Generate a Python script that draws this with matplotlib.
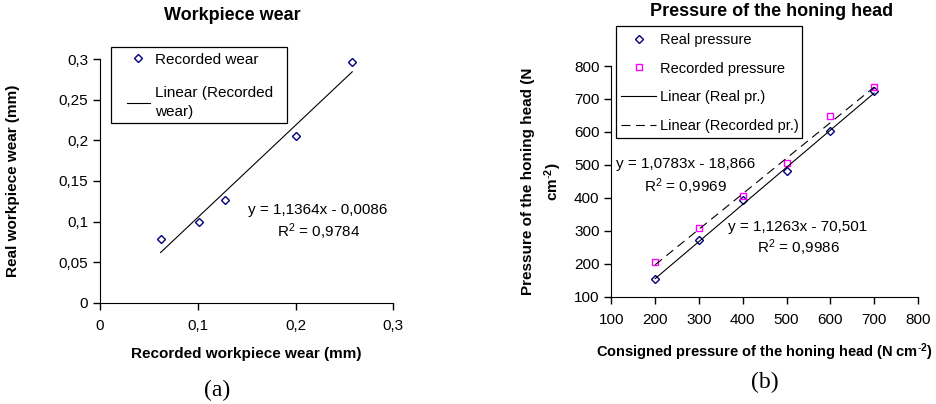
import numpy as np
import matplotlib
matplotlib.use("Agg")
import matplotlib.pyplot as plt
from matplotlib.patches import Rectangle
from matplotlib.ticker import FuncFormatter

plt.rcParams["font.family"] = ["Liberation Sans", "DejaVu Sans"]
plt.rcParams["mathtext.fontset"] = "custom"
plt.rcParams["mathtext.rm"] = "Liberation Sans"
plt.rcParams["mathtext.it"] = "Liberation Sans:italic"
plt.rcParams["mathtext.bf"] = "Liberation Sans:bold"

# (a) workpiece wear
recorded_wear = [0.062, 0.101, 0.128, 0.200, 0.258]
real_wear = [0.078, 0.100, 0.127, 0.206, 0.297]
wear_slope, wear_icpt = 1.1364, -0.0086
wear_eq = "y = 1,1364x - 0,0086"
wear_r2 = "R$^2$ = 0,9784"

# (b) pressure of the honing head
consigned = [200, 300, 400, 500, 600, 700]
real_pressure = [153, 273, 393, 482, 604, 725]
recorded_pressure = [205, 308, 406, 507, 648, 737]
real_slope, real_icpt = 1.1263, -70.501
rec_slope, rec_icpt = 1.0783, -18.866
real_eq = "y = 1,1263x - 70,501"
real_r2 = "R$^2$ = 0,9986"
rec_eq = "y = 1,0783x - 18,866"
rec_r2 = "R$^2$ = 0,9969"

W, H = 936, 404
fig = plt.figure(figsize=(W / 100, H / 100), dpi=100)


def box(l, t, r, b):
    return [l / W, 1 - b / H, (r - l) / W, (b - t) / H]


def frame(l, t, r, b):
    fig.patches.append(Rectangle((l / W, 1 - b / H), (r - l) / W, (b - t) / H,
                                 transform=fig.transFigure, fill=False,
                                 edgecolor="black", lw=0.9))


def comma(v, pos):
    return ("%g" % round(v, 4)).replace(".", ",")


def style_axes(ax):
    for side in ("top", "right"):
        ax.spines[side].set_visible(False)
    ax.tick_params(direction="out", length=5, width=1, labelsize=11)
    ax.tick_params(axis="x", pad=7)
    ax.xaxis.set_major_formatter(FuncFormatter(comma))
    ax.yaxis.set_major_formatter(FuncFormatter(comma))


navy = "#000080"
magenta = "#FF00FF"
sup = "$^{\\mathbf{\\text{-}2}}$"

# ---- left chart ----
ax1 = fig.add_axes(box(100, 59.3, 393.3, 302.7))
style_axes(ax1)
ax1.set_xlim(0, 0.3)
ax1.set_ylim(0, 0.3)
ax1.set_xticks([0, 0.1, 0.2, 0.3])
ax1.set_yticks([0, 0.05, 0.1, 0.15, 0.2, 0.25, 0.3])
ax1.plot(recorded_wear, real_wear, "D", ms=4, mfc="none", mec=navy, mew=1,
         label="Recorded wear", clip_on=False)
xs = np.array([min(recorded_wear), max(recorded_wear)])
ax1.plot(xs, wear_slope * xs + wear_icpt, color="black", lw=0.8,
         label="Linear (Recorded\nwear)")
ax1.text(0.223, 0.1143, wear_eq, ha="center", va="center", fontsize=11)
ax1.text(0.223, 0.0872, wear_r2, ha="center", va="center", fontsize=11)
ax1.set_xlabel("Recorded workpiece wear (mm)", fontsize=11, fontweight="bold", labelpad=10)
ax1.set_ylabel("Real workpiece wear (mm)", fontsize=11, fontweight="bold")
ax1.yaxis.set_label_coords(-0.273, 0.5)
leg1 = ax1.legend(loc="upper left", bbox_to_anchor=(127 / W, 1 - 52.5 / H),
                  bbox_transform=fig.transFigure, fontsize=11, frameon=False,
                  handlelength=1.5, handletextpad=0.35, borderpad=0,
                  labelspacing=1.3, borderaxespad=0)
for t in leg1.get_texts():
    t.set_linespacing(1.45)
frame(110.7, 46.7, 286.7, 122.7)
fig.text(232 / W, 1 - 15 / H, "Workpiece wear", ha="center", va="center",
         fontsize=13, fontweight="bold")
fig.text(217 / W, 1 - 390 / H, "(a)", ha="center", va="center",
         fontsize=17, family="Liberation Serif")

# ---- right chart ----
ax2 = fig.add_axes(box(611.3, 66, 918, 296.7))
style_axes(ax2)
ax2.set_xlim(100, 800)
ax2.set_ylim(100, 800)
ax2.set_xticks(range(100, 801, 100))
ax2.set_yticks(range(100, 801, 100))
ax2.plot(consigned, real_pressure, "D", ms=4, mfc="none", mec=navy, mew=1,
         label="Real pressure")
ax2.plot(consigned, recorded_pressure, "s", ms=4, mfc="none", mec=magenta, mew=1,
         label="Recorded pressure")
xs2 = np.array([min(consigned), max(consigned)])
ax2.plot(xs2, real_slope * xs2 + real_icpt, color="black", lw=0.8,
         label="Linear (Real pr.)")
ax2.plot(xs2, rec_slope * xs2 + rec_icpt, color="black", lw=0.8,
         linestyle=(0, (8, 5)), label="Linear (Recorded pr.)")
ax2.text(270, 503, rec_eq, ha="center", va="center", fontsize=11)
ax2.text(270, 433, rec_r2, ha="center", va="center", fontsize=11)
ax2.text(526, 311, real_eq, ha="center", va="center", fontsize=11)
ax2.text(526, 248, real_r2, ha="center", va="center", fontsize=11)
ax2.set_xlabel("Consigned pressure of the honing head (N cm" + sup + ")",
               fontsize=10.5, fontweight="bold", labelpad=10)
ax2.set_ylabel("Pressure of the honing head (N\ncm" + sup + ")", fontsize=11,
               fontweight="bold", linespacing=1.45)
ax2.yaxis.set_label_coords(-0.155, 0.5)
leg2 = ax2.legend(loc="upper left", bbox_to_anchor=(621 / W, 1 - 33 / H),
                  bbox_transform=fig.transFigure, fontsize=10.5, frameon=False,
                  handlelength=2.4, handletextpad=0.3, borderpad=0,
                  labelspacing=1.0, borderaxespad=0)
frame(615.7, 26, 802.3, 138)
fig.text(771.7 / W, 1 - 12 / H, "Pressure of the honing head", ha="center",
         va="center", fontsize=13, fontweight="bold")
fig.text(764.7 / W, 1 - 382 / H, "(b)", ha="center", va="center",
         fontsize=17, family="Liberation Serif")

fig.savefig("out.png", dpi=100)
